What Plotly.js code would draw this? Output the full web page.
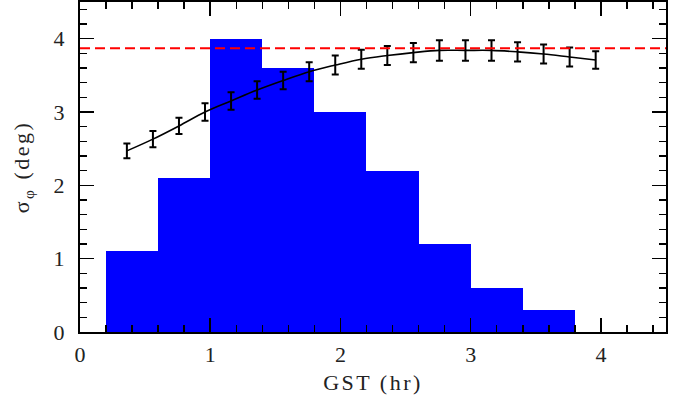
<!DOCTYPE html>
<html>
<head>
<meta charset="utf-8">
<script src="https://cdn.plot.ly/plotly-3.0.1.min.js"></script>
<style>
html,body{margin:0;padding:0;background:#fff;}
#chart{width:685px;height:400px;}
.xtitle, .ytitle{letter-spacing:2.5px;}
</style>
</head>
<body>
<div id="chart"></div>
<script>
// Histogram bins (GST, hr)
const binCenters = [0.4, 0.8, 1.2, 1.6, 2.0, 2.4, 2.8, 3.2, 3.6];
const binHeights = [1.1, 2.1, 4.0, 3.6, 3.0, 2.2, 1.2, 0.6, 0.3];
const binWidth = 0.4;

// sigma_phi measurements
const gst = [0.36, 0.56, 0.76, 0.96, 1.16, 1.36, 1.56, 1.76, 1.96, 2.16, 2.36, 2.56, 2.76, 2.96, 3.16, 3.36, 3.56, 3.76, 3.96];
const sigmaPhi = [2.47, 2.63, 2.81, 3.00, 3.15, 3.30, 3.43, 3.55, 3.64, 3.72, 3.77, 3.81, 3.84, 3.84, 3.84, 3.82, 3.79, 3.75, 3.71];
const sigmaErr = [0.10, 0.11, 0.11, 0.12, 0.12, 0.12, 0.12, 0.13, 0.13, 0.13, 0.13, 0.13, 0.14, 0.14, 0.14, 0.13, 0.13, 0.13, 0.12];

// reference level
const refLevel = 3.87;

const FONT = "Liberation Serif, DejaVu Serif, serif";

const traces = [
  {
    type: 'bar', x: binCenters, y: binHeights, width: binWidth,
    marker: {color: '#0000ff', line: {width: 0}},
    hoverinfo: 'skip', showlegend: false
  },
  {
    type: 'scatter', mode: 'lines', x: gst, y: sigmaPhi,
    line: {color: '#000', width: 1.6, shape: 'spline'},
    error_y: {type: 'data', array: sigmaErr, visible: true, color: '#000', thickness: 2, width: 3.5},
    showlegend: false
  }
];

const axisCommon = {
  showline: true, linecolor: '#000', linewidth: 2, mirror: 'allticks',
  ticks: 'inside', ticklen: 14, tickwidth: 1.5, tickcolor: '#000',
  showgrid: false, zeroline: false, dtick: 1, tick0: 0,
  tickfont: {family: FONT, size: 22, color: '#222'},
  minor: {ticks: 'inside', ticklen: 7, tickwidth: 1.5, tickcolor: '#000', dtick: 0.2, showgrid: false}
};

const layout = {
  width: 685, height: 400,
  margin: {l: 80, r: 19, t: 2, b: 68},
  paper_bgcolor: '#fff', plot_bgcolor: '#fff',
  bargap: 0,
  xaxis: Object.assign({}, axisCommon, {
    range: [0, 4.5], ticklabelstandoff: 2,
    title: {text: 'GST (hr)', font: {family: FONT, size: 22, color: '#222'}, standoff: 8}
  }),
  yaxis: Object.assign({}, axisCommon, {
    range: [0, 4.5], ticklabelstandoff: 9,
    title: {text: 'σ<sub>φ</sub> (deg)', font: {family: FONT, size: 22, color: '#222'}, standoff: 18}
  }),
  shapes: [{
    type: 'line', xref: 'paper', yref: 'y', x0: 0, x1: 1, y0: refLevel, y1: refLevel,
    line: {color: '#ff0000', width: 2, dash: '10px,5px'}, layer: 'above'
  }]
};

Plotly.newPlot('chart', traces, layout, {displayModeBar: false, staticPlot: true});
</script>
</body>
</html>
